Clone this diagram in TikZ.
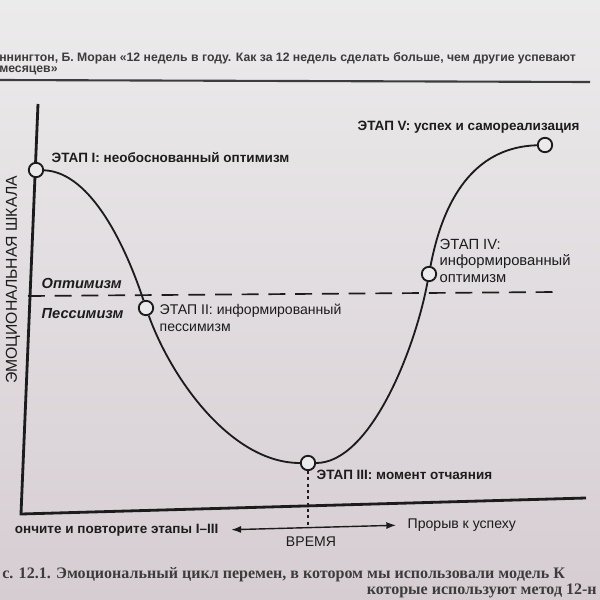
\documentclass[tikz,border=0pt]{standalone}
\usepackage{fontspec}
\setmainfont{Liberation Sans}
\newfontfamily\captionserif{Liberation Serif}
\usetikzlibrary{arrows.meta,positioning,calc}
\definecolor{PageTop}{HTML}{ECEBEC}
\definecolor{PageBottom}{HTML}{D6CDD2}
\definecolor{InkBlack}{HTML}{1C1C1C}
\definecolor{HeadGray}{HTML}{3C3C3C}

\begin{document}
\begin{tikzpicture}[
        x=0.025cm, y=-0.025cm,
        >={Latex[length=7pt,width=5pt]},
        font=\fontsize{10}{12}\selectfont,
        stage/.style={
            circle,
            draw=InkBlack,
            line width=1.3pt,
            fill=PageTop,
            minimum size=0.36cm,
            inner sep=0pt
        },
        stagetext/.style={
            text=InkBlack,
            align=left,
            inner sep=1pt,
            font=\fontsize{10}{12}\selectfont
        },
        boldtext/.style={
            stagetext,
            font=\fontsize{9.6}{12}\selectfont\bfseries
        },
        zonetext/.style={
            stagetext,
            font=\fontsize{10.4}{12}\selectfont\bfseries\itshape
        },
        headtext/.style={
            text=HeadGray,
            inner sep=0pt,
            font=\fontsize{8.7}{10}\selectfont\bfseries
        },
        captiontext/.style={
            text=HeadGray,
            inner sep=0pt,
            font=\captionserif\fontsize{11.4}{14}\selectfont\bfseries
        },
        axis/.style={line width=2pt, draw=InkBlack},
        curve/.style={line width=1.3pt, draw=InkBlack},
        divider/.style={line width=1.2pt, draw=InkBlack, dash pattern=on 12pt off 7pt},
        timearrow/.style={<->, line width=1pt, draw=InkBlack},
        marker/.style={line width=1.6pt, draw=InkBlack, dash pattern=on 2pt off 2.5pt}
    ]
        \useasboundingbox (0,0) rectangle (600,600);
        \shade[top color=PageTop, bottom color=PageBottom] (0,0) rectangle (600,600);

        % page header and caption
        \node[headtext, anchor=west] (head1) at (-1,58)
            {ннингтон, Б. Моран «12 недель в году. Как за 12 недель сделать больше, чем другие успевают};
        \node[headtext, anchor=west] (head2) at (-1,70) {месяцев»};
        \draw[line width=1.5pt, draw=HeadGray] (0,80) -- (590,82);
        \node[captiontext, anchor=west] (cap1) at (2,575)
            {с. 12.1. Эмоциональный цикл перемен, в котором мы использовали модель К};
        \node[captiontext, anchor=east] (cap2) at (597,591)
            {которые используют метод 12-н};

        % axes
        \coordinate (ytop) at (38,104);
        \coordinate (origin) at (21,514);
        \coordinate (xend) at (586,498);
        \draw[axis] (ytop) -- (origin) -- (xend);
        \node[stagetext, rotate=90, font=\fontsize{11.2}{13}\selectfont] (scale) at (13,280)
            {ЭМОЦИОНАЛЬНАЯ ШКАЛА};

        % optimism / pessimism divider
        \coordinate (dashL) at (28,296);
        \coordinate (dashR) at (556,292);
        \draw[divider] (dashL) -- (dashR);
        \node[zonetext, anchor=west] (optimism) at (40,283) {Оптимизм};
        \node[zonetext, anchor=west] (pessimism) at (40,314) {Пессимизм};

        % stages
        \node[stage] (uninformed) at (36,170) {};
        \node[stage] (informedpess) at (146,308) {};
        \node[stage] (despair) at (308,463) {};
        \node[stage] (informedopt) at (429,274) {};
        \node[stage] (success) at (545,145) {};

        \draw[curve] (uninformed) .. controls (92,172) and (127,250) .. (informedpess)
            .. controls (172,380) and (232,463) .. (despair)
            .. controls (370,463) and (415,350) .. (informedopt)
            .. controls (445,190) and (480,147) .. (success);

        \node[boldtext, anchor=west] (uninformedtext) at (50,158)
            {ЭТАП I: необоснованный оптимизм};
        \node[stagetext, anchor=north west] (informedpesstext) at (158,302)
            {ЭТАП II: информированный\\пессимизм};
        \node[boldtext, anchor=west] (despairtext) at (315,475)
            {ЭТАП III: момент отчаяния};
        \node[stagetext, anchor=north west, font=\fontsize{10.5}{12}\selectfont] (informedopttext) at (438,237)
            {ЭТАП IV:\\информированный\\оптимизм};
        \node[boldtext, anchor=west] (successtext) at (356,127)
            {ЭТАП V: успех и самореализация};

        % time axis
        \node[boldtext, anchor=east] (repeat) at (220,530) {ончите и повторите этапы I–III};
        \node[stagetext, anchor=west] (breakthrough) at (406,525) {Прорыв к успеху};
        \node[stagetext] (time) at (311,542) {ВРЕМЯ};
        \draw[timearrow, shorten <=8pt, shorten >=7pt] (repeat.east) -- (breakthrough.west);
        \coordinate (timemark) at (308,526);
        \draw[marker] (despair.south) -- (timemark);
    \end{tikzpicture}
\end{document}
